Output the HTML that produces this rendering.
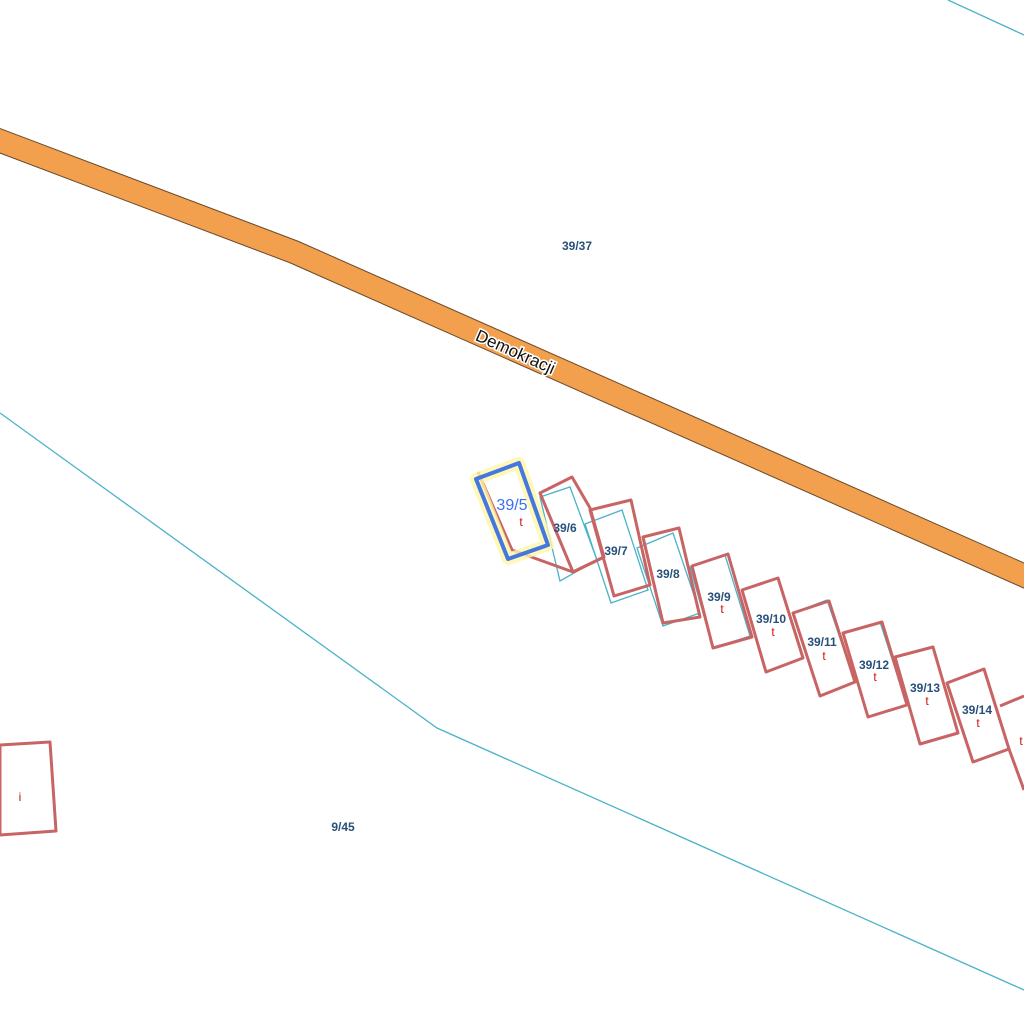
<!DOCTYPE html>
<html><head><style>html,body{margin:0;padding:0;background:#fff;width:1024px;height:1024px;overflow:hidden}</style></head>
<body>
<svg width="1024" height="1024" viewBox="0 0 1024 1024" xmlns="http://www.w3.org/2000/svg" font-family="Liberation Sans, sans-serif">
<rect width="1024" height="1024" fill="#fff"/>
<polyline points="-10,137 294,252 1034,580" fill="none" stroke="#6b4a2a" stroke-width="24"/>
<polyline points="-10,137 294,252 1034,580" fill="none" stroke="#f2a04e" stroke-width="22"/>
<text x="0" y="0" font-size="17" fill="#111" stroke="#fff" stroke-width="3" paint-order="stroke" transform="translate(515,353) rotate(24)" text-anchor="middle" dominant-baseline="middle">Demokracji</text>
<g fill="none" stroke="#4bb3c8" stroke-width="1.3">
<polyline points="0,413 437,728 1024,990"/>
<line x1="948" y1="0" x2="1024" y2="35"/>
<polygon points="540,497 570,487 597,560 560,581"/>
<polygon points="585,524 622,510 648,590 611,603"/>
<polygon points="637,548 673,533 700,613 663,626"/>
<polygon points="690,567 725,555 750,636 713,648"/>
<polygon points="742,590 778,578 803,658 766,672"/>
<polygon points="793,613 827,600 855,682 820,696"/>
<polygon points="843,633 880,622 907,705 868,717"/>
<polygon points="895,657 933,647 958,733 920,744"/>
</g>
<g fill="none" stroke="#c86464" stroke-width="3" stroke-linejoin="round">
<polyline points="478,472 512,550 573,572 604,557"/>
<polygon points="540,493 572,477 590,508 604,557 573,572"/>
<polygon points="590,510 631,500 650,585 614,596"/>
<polygon points="643,537 679,528 700,617 663,623"/>
<polygon points="692,566 728,554 752,637 713,648"/>
<polygon points="742,590 778,578 803,658 766,672"/>
<polygon points="793,613 829,601 855,682 820,696"/>
<polygon points="843,633 882,622 907,705 868,717"/>
<polygon points="895,657 933,647 958,733 920,744"/>
<polygon points="947,683 984,669 1009,749 973,762"/>
<polyline points="1000,706 1024,696"/>
<polyline points="1009,749 1024,790"/>
<polygon points="0,745 50,742 56,831 0,835"/>
</g>
<polygon points="476,479 519,463 548,545 508,559" fill="none" stroke="#fff6a8" stroke-width="12" stroke-linejoin="round" opacity="0.8"/>
<polygon points="476,479 519,463 548,545 508,559" fill="none" stroke="#4477e0" stroke-width="4" stroke-linejoin="round"/>
<g fill="#27507a" font-weight="bold" font-size="12" text-anchor="middle">
<text x="577" y="250">39/37</text>
<text x="343" y="831">9/45</text>
<text x="565" y="532">39/6</text>
<text x="616" y="555">39/7</text>
<text x="668" y="578">39/8</text>
<text x="719" y="601">39/9</text>
<text x="771" y="623">39/10</text>
<text x="822" y="646">39/11</text>
<text x="874" y="669">39/12</text>
<text x="925" y="692">39/13</text>
<text x="977" y="714">39/14</text>
</g>
<text x="512" y="510" font-size="16" fill="#3a6ff0" text-anchor="middle">39/5</text>
<g fill="#cc1111" font-size="12" text-anchor="middle">
<text x="521" y="526">t</text>
<text x="722" y="613">t</text>
<text x="773" y="636">t</text>
<text x="824" y="660">t</text>
<text x="875" y="681">t</text>
<text x="927" y="705">t</text>
<text x="978" y="727">t</text>
<text x="1021" y="745">t</text>
<text x="20" y="801">i</text>
</g>
</svg>
</body></html>
